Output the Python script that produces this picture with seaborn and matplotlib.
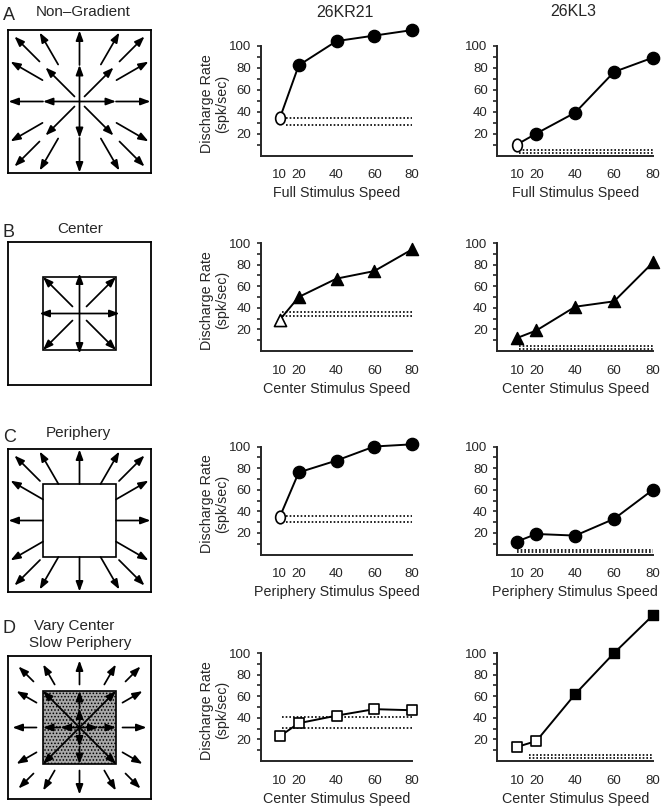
import numpy as np
import pandas as pd
import matplotlib
matplotlib.use('Agg')
import matplotlib.pyplot as plt
import seaborn as sns
from matplotlib.path import Path
from matplotlib.patches import Rectangle

sns.set_theme(style='ticks')
plt.rcParams['font.family'] = ['Liberation Sans', 'DejaVu Sans']
plt.rcParams['hatch.linewidth'] = 0.7

# ---- data ----
speeds = [10, 20, 40, 60, 80]

kr21_rates = [
    [34, 82, 104, 109, 114],   # full
    [29, 50, 67, 74, 94],      # center
    [35, 76, 87, 100, 102],    # periphery
    [23, 35, 42, 48, 47],      # vary center / slow periphery
]
kl3_rates = [
    [10, 20, 39, 76, 89],
    [12, 19, 41, 46, 82],
    [12, 19, 17.5, 33, 60],
    [13, 18.5, 62, 100, 135],
]
# open symbol = not above spontaneous rate
kr21_open = [
    [1, 0, 0, 0, 0],
    [1, 0, 0, 0, 0],
    [1, 0, 0, 0, 0],
    [1, 1, 1, 1, 1],
]
kl3_open = [
    [1, 0, 0, 0, 0],
    [0, 0, 0, 0, 0],
    [0, 0, 0, 0, 0],
    [1, 1, 0, 0, 0],
]
# spontaneous band (two dotted lines) and where it starts on x
kr21_spont = [(28, 34), (32, 36), (30, 35.5), (31, 40.5)]
kl3_spont = [(2, 4.7), (2, 4.5), (2, 4.5), (2.5, 5.5)]
kr21_spont_start = [13, 11, 13, 11]
kl3_spont_start = [11, 11, 10, 16]

row_markers = ['o', '^', 'o', 's']
x_labels = ['Full Stimulus Speed', 'Center Stimulus Speed',
            'Periphery Stimulus Speed', 'Center Stimulus Speed']
col_titles = ['26KR21', '26KL3']

W, H = 668, 809
fig = plt.figure(figsize=(W / 100, H / 100), dpi=100)


def px_axes(left, bottom, width, height):
    return fig.add_axes([left / W, 1 - bottom / H, width / W, height / H])


def px_text(x, y, s, **kw):
    fig.text(x / W, 1 - y / H, s, **kw)


# tall open oval used for the open circles
_c = Path.unit_circle()
oval = Path(_c.vertices * np.array([0.77, 1.0]), _c.codes)

marker_size = {'o': 78, '^': 76, 's': 56}

row_zero = [155.5, 351, 554.5, 761]
row_height = [110, 108, 108, 108]
col_left = [261, 497.5]
col_width = [151, 155.5]


def rate_panel(ax, rates, open_flags, marker, spont, spont_start, xlabel, ylabel):
    df = pd.DataFrame({'speed': speeds, 'rate': rates,
                       'open': [bool(o) for o in open_flags]})
    sns.lineplot(data=df, x='speed', y='rate', color='black', lw=1.4, ax=ax)
    for lo_hi in spont:
        ax.hlines(lo_hi, spont_start, 80, colors='black', lw=1.2,
                  linestyles=(0, (1, 1.2)))
    m_open = oval if marker == 'o' else marker
    s = marker_size[marker]
    filled = df[~df['open']]
    hollow = df[df['open']]
    if len(filled):
        sns.scatterplot(data=filled, x='speed', y='rate', marker=marker, s=s,
                        color='black', edgecolor='black', linewidth=1, ax=ax,
                        zorder=4, legend=False)
    if len(hollow):
        sns.scatterplot(data=hollow, x='speed', y='rate', marker=m_open,
                        s=s if marker != 'o' else 82, color='white',
                        edgecolor='black', linewidth=1.2, ax=ax, zorder=4,
                        legend=False)
    for art in ax.lines + ax.collections:
        art.set_clip_on(False)
    ax.set_xlim(0, 80)
    ax.set_ylim(0, 100)
    sns.despine(ax=ax)
    for sp in ('left', 'bottom'):
        ax.spines[sp].set_linewidth(1.4)
    ax.set_xticks(speeds)
    ax.set_xticks([80], minor=True)
    ax.set_yticks([20, 40, 60, 80, 100])
    ax.set_yticks([10, 30, 50, 70, 90], minor=True)
    ax.tick_params(axis='x', which='major', length=0, pad=10, labelsize=9.5)
    ax.tick_params(axis='x', which='minor', direction='in', length=3, width=1.2)
    ax.tick_params(axis='y', which='both', direction='out', length=2.8,
                   width=1.2, pad=4.3, labelsize=9.5)
    ax.set_xlabel(xlabel, fontsize=10.3, labelpad=3.5)
    ax.set_ylabel('')
    if ylabel:
        ax.text(-0.31, 0.47, 'Discharge Rate\n(spk/sec)', transform=ax.transAxes,
                rotation=90, ha='center', va='center', fontsize=10.3,
                linespacing=1.1)
    ax.patch.set_alpha(0)


for r in range(4):
    axm = px_axes(col_left[0], row_zero[r], col_width[0], row_height[r])
    rate_panel(axm, kr21_rates[r], kr21_open[r], row_markers[r], kr21_spont[r],
               kr21_spont_start[r], x_labels[r], True)
    axr = px_axes(col_left[1], row_zero[r], col_width[1], row_height[r])
    rate_panel(axr, kl3_rates[r], kl3_open[r], row_markers[r], kl3_spont[r],
               kl3_spont_start[r], x_labels[r], False)

px_text(345, 16.7, col_titles[0], ha='center', va='baseline', fontsize=11.5)
px_text(573, 16, col_titles[1], ha='center', va='baseline', fontsize=11.5)

# ---- stimulus diagrams ----
h = 36.5  # half size of the center square


def sq_point(a, deg):
    c, s = np.cos(np.radians(deg)), np.sin(np.radians(deg))
    m = max(abs(c), abs(s))
    return (a * c / m, a * s / m)


def arrow(ax, p0, p1):
    ax.annotate('', xy=p1, xytext=p0,
                arrowprops=dict(arrowstyle='-|>,head_length=0.65,head_width=0.24',
                                color='black', lw=1.25, mutation_scale=9,
                                shrinkA=0, shrinkB=0))


def diagram_axes(top):
    ax = px_axes(8, top + 143, 143, 143)
    ax.set_xlim(-71.5, 71.5)
    ax.set_ylim(-71.5, 71.5)
    ax.set_xticks([])
    ax.set_yticks([])
    for sp in ax.spines.values():
        sp.set_linewidth(1.3)
        sp.set_color('black')
    return ax


def outer_arrows(ax, start, tip_axis, tip_mid, tip_corner, skip_axis=False):
    for base in (0, 90, 180, 270):
        for off, tip in ((0, tip_axis), (30, tip_mid), (45, tip_corner), (60, tip_mid)):
            if off == 0 and skip_axis:
                continue
            st = start + 3 if off == 45 else start
            arrow(ax, sq_point(st, base + off), sq_point(tip, base + off))


# A: non-gradient
ax = diagram_axes(30)
for d in (0, 90, 180, 270):
    arrow(ax, (0, 0), sq_point(h, d))
    arrow(ax, sq_point(h, d), sq_point(71, d))
for d in (45, 135, 225, 315):
    arrow(ax, sq_point(5, d), sq_point(34, d))
outer_arrows(ax, 37, 71, 69, 65, skip_axis=True)

# B: center only
ax = diagram_axes(242)
ax.add_patch(Rectangle((-h, -h), 2 * h, 2 * h, fill=False, ec='black', lw=1.2))
for d in (0, 90, 180, 270):
    arrow(ax, (0, 0), sq_point(40, d))
for d in (45, 135, 225, 315):
    arrow(ax, sq_point(7, d), sq_point(h, d))

# C: periphery only
ax = diagram_axes(449)
ax.add_patch(Rectangle((-h, -h), 2 * h, 2 * h, fc='white', ec='black', lw=1.2))
outer_arrows(ax, h, 71, 69, 65)

# D: vary center, slow periphery
ax = diagram_axes(656)
ax.add_patch(Rectangle((-h, -h), 2 * h, 2 * h, fc='#a8a8a8', ec='black',
                       lw=1.2, hatch='.....'))
for d in (0, 90, 180, 270):
    arrow(ax, (0, 0), sq_point(19, d))
    arrow(ax, sq_point(19, d), sq_point(h, d))
for d in (45, 135, 225, 315):
    arrow(ax, (0, 0), sq_point(h, d))
outer_arrows(ax, 43, 67, 63, 61)

# panel letters and diagram titles
px_text(3, 20, 'A', ha='left', va='baseline', fontsize=13)
px_text(83, 16.3, 'Non–Gradient', ha='center', va='baseline', fontsize=11)
px_text(3, 237, 'B', ha='left', va='baseline', fontsize=13)
px_text(80, 233, 'Center', ha='center', va='baseline', fontsize=11)
px_text(3, 441.5, 'C', ha='left', va='baseline', fontsize=13)
px_text(78, 437, 'Periphery', ha='center', va='baseline', fontsize=11)
px_text(3, 633, 'D', ha='left', va='baseline', fontsize=13)
px_text(74, 630, 'Vary Center', ha='center', va='baseline', fontsize=11)
px_text(80, 647, 'Slow Periphery', ha='center', va='baseline', fontsize=11)

fig.savefig('out.png', dpi=100)
